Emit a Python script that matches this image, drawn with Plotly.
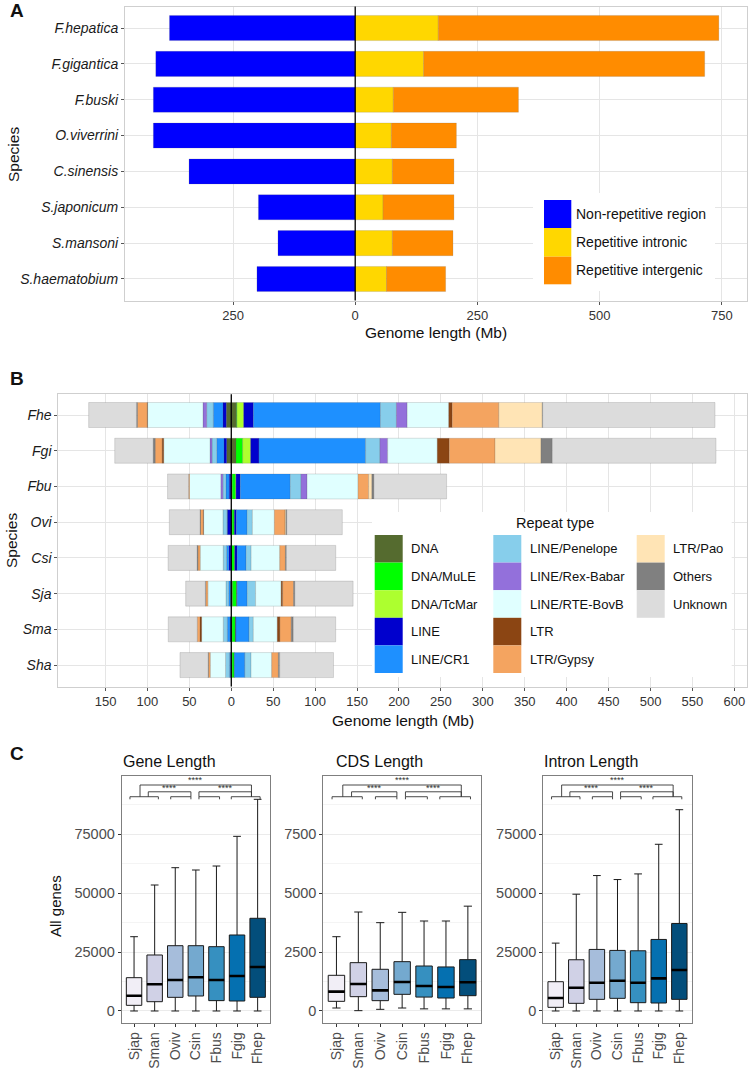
import plotly.graph_objects as go

W, H = 750, 1072
FONT = "Liberation Sans, Arial, Helvetica, sans-serif"


def px(x):
    return x / W


def py(y):
    return 1 - y / H


# ---------------- Panel A data (Mb) ----------------
species_a = ["F.hepatica", "F.gigantica", "F.buski", "O.viverrini",
             "C.sinensis", "S.japonicum", "S.mansoni", "S.haematobium"]
nonrep_mb = [380, 408, 413, 413, 340, 198, 158, 201]
intronic_mb = [170, 140, 78, 74, 76, 57, 76, 64]
intergenic_mb = [574, 575, 256, 133, 126, 145, 124, 121]
a_series = ["Non-repetitive region", "Repetitive intronic", "Repetitive intergenic"]
a_colors = ["#0000FF", "#FFD700", "#FF8C00"]
a_ticks = [-250, 0, 250, 500, 750]

# ---------------- Panel B data (Mb) ----------------
species_b = ["Fhe", "Fgi", "Fbu", "Ovi", "Csi", "Sja", "Sma", "Sha"]
repeat_types = ["DNA", "DNA/MuLE", "DNA/TcMar", "LINE", "LINE/CR1",
                "LINE/Penelope", "LINE/Rex-Babar", "LINE/RTE-BovB", "LTR",
                "LTR/Gypsy", "LTR/Pao", "Others", "Unknown"]
repeat_colors = ["#556B2F", "#00FF00", "#ADFF2F", "#0000CD", "#1E90FF",
                 "#87CEEB", "#9370DB", "#E0FFFF", "#8B4513",
                 "#F4A460", "#FFE4B5", "#808080", "#DCDCDC"]
# left (negative) side, values in repeat_types order
fhe_left = [6.0, 0, 0, 3.9, 11.6, 7.9, 4.4, 66.0, 0.5, 11.6, 0, 1.2, 57.0]
fgi_left = [5.5, 0, 0, 3.2, 8.7, 5.6, 2.4, 55.2, 1.9, 8.3, 0, 2.4, 45.8]
fbu_left = [0.5, 0, 0, 2.0, 3.9, 3.6, 2.6, 37.2, 0, 1.2, 0, 0, 25.0]
ovi_left = [0.3, 0, 0, 4.4, 0.5, 4.8, 0, 23.0, 0.5, 3.3, 0, 0.5, 36.6]
csi_left = [0.3, 0.2, 0, 2.5, 2.7, 4.0, 0, 27.4, 0, 2.7, 0, 1.0, 34.6]
sja_left = [0.5, 0, 0, 0.3, 2.4, 3.2, 0, 21.6, 0, 2.4, 0, 0.5, 23.5]
sma_left = [0.3, 0.3, 0, 1.0, 3.2, 4.8, 0, 25.8, 2.0, 3.2, 0, 0, 34.6]
sha_left = [0.3, 0, 0, 0.5, 1.5, 4.6, 0, 18.2, 0, 2.2, 0, 0.3, 33.6]
# right (positive) side
fhe_right = [6.4, 0.5, 7.9, 11.6, 151.5, 19.1, 12.8, 49.6, 4.1, 55.6, 51.8, 0.5, 205.5]
fgi_right = [5.6, 8.0, 9.5, 9.9, 127.2, 17.1, 9.2, 59.2, 14.3, 54.5, 54.9, 13.5, 195.2]
fbu_right = [1.2, 4.0, 0.5, 5.1, 59.6, 12.8, 7.2, 60.8, 0, 12.6, 3.9, 2.4, 86.7]
ovi_right = [1.0, 2.4, 0.3, 2.4, 12.8, 6.3, 0, 26.2, 0, 12.8, 1.0, 1.0, 66.2]
csi_right = [0.5, 3.4, 0.3, 2.8, 10.7, 6.0, 0, 34.1, 0, 6.8, 0, 1.2, 58.8]
sja_right = [1.5, 4.8, 0.3, 0.5, 11.9, 10.0, 0, 30.5, 1.8, 13.0, 0, 1.5, 69.5]
sma_right = [1.0, 3.8, 0.3, 0.5, 15.5, 5.2, 0, 28.6, 3.1, 13.6, 0, 2.4, 50.5]
sha_right = [1.0, 2.4, 0, 0.3, 12.5, 7.4, 0, 24.6, 0, 8.0, 0, 1.5, 64.2]
b_ticks = list(range(-150, 601, 50))

# ---------------- Panel C data (bp) ----------------
species_c = ["Sjap", "Sman", "Oviv", "Csin", "Fbus", "Fgig", "Fhep"]
box_colors = ["#F1EEF6", "#D0D1E6", "#A6BDDB", "#74A9CF", "#3690C0", "#0570B0", "#034E7B"]
gene_low = [0, 0, 0, 0, 0, 0, 0]
gene_q1 = [2400, 3950, 5800, 6370, 4400, 4240, 5800]
gene_med = [6500, 11320, 13160, 14300, 13160, 14850, 18680]
gene_q3 = [14140, 23770, 27720, 27720, 27300, 32260, 39350]
gene_high = [31540, 53480, 60830, 59850, 61540, 74140, 89850]
cds_low = [127, 14, 70, 127, 90, 90, 90]
cds_q1 = [410, 608, 438, 707, 590, 550, 650]
cds_med = [820, 1146, 877, 1231, 1060, 1020, 1220]
cds_q3 = [1515, 2051, 1770, 2094, 1910, 1870, 2180]
cds_high = [3154, 4202, 3749, 4188, 3820, 3820, 4450]
intron_low = [0, 0, 0, 0, 0, 0, 0]
intron_q1 = [1550, 3250, 4940, 5370, 3530, 3390, 4940]
intron_med = [5510, 9890, 12010, 12850, 12010, 13840, 17370]
intron_q3 = [12430, 21750, 26130, 25710, 25560, 30370, 37150]
intron_high = [28810, 49580, 57490, 55790, 58190, 70760, 85450]
c_titles = ["Gene Length", "CDS Length", "Intron Length"]
c_ticks_gene = [0, 25000, 50000, 75000]
c_ticks_cds = [0, 2500, 5000, 7500]

fig = go.Figure()

# ---------------- Panel A bars ----------------
for name, vals, col, sign in zip(a_series, [nonrep_mb, intronic_mb, intergenic_mb], a_colors, [-1, 1, 1]):
    fig.add_trace(go.Bar(
        y=species_a, x=[sign * v for v in vals], orientation="h", name=name,
        marker=dict(color=col, line=dict(color="rgba(90,90,90,0.35)", width=0.5)),
        width=0.7, xaxis="x", yaxis="y", showlegend=False))

# ---------------- Panel B bars ----------------
b_left = [fhe_left, fgi_left, fbu_left, ovi_left, csi_left, sja_left, sma_left, sha_left]
b_right = [fhe_right, fgi_right, fbu_right, ovi_right, csi_right, sja_right, sma_right, sha_right]
for k, (rt, col) in enumerate(zip(repeat_types, repeat_colors)):
    lv = [-row[k] if row[k] > 0 else None for row in b_left]
    rv = [row[k] if row[k] > 0 else None for row in b_right]
    for vals in (lv, rv):
        fig.add_trace(go.Bar(
            y=species_b, x=vals, orientation="h", name=rt,
            marker=dict(color=col, line=dict(color="rgba(70,70,70,0.35)", width=0.5)),
            width=0.7, xaxis="x2", yaxis="y2", showlegend=False))

# ---------------- Panel C boxes ----------------
c_sets = [
    ("x3", "y3", gene_low, gene_q1, gene_med, gene_q3, gene_high),
    ("x4", "y4", cds_low, cds_q1, cds_med, cds_q3, cds_high),
    ("x5", "y5", intron_low, intron_q1, intron_med, intron_q3, intron_high),
]
BOXW = 0.75
for xa, ya, lo, q1, med, q3, hi in c_sets:
    for i, sp in enumerate(species_c):
        fig.add_trace(go.Box(
            x=[i], q1=[q1[i]], median=[med[i]], q3=[q3[i]],
            lowerfence=[lo[i]], upperfence=[hi[i]], name=sp,
            width=BOXW, whiskerwidth=0.5, boxpoints=False,
            fillcolor=box_colors[i], line=dict(color="#1A1A1A", width=1),
            xaxis=xa, yaxis=ya, showlegend=False, hoverinfo="skip"))
    mx, my = [], []
    for i in range(len(species_c)):
        mx += [i - BOXW / 2, i + BOXW / 2, None]
        my += [med[i], med[i], None]
    fig.add_trace(go.Scatter(x=mx, y=my, mode="lines", line=dict(color="black", width=2.6),
                             xaxis=xa, yaxis=ya, showlegend=False, hoverinfo="skip"))

# ---------------- Axes ----------------
grid = "#E5E5E5"
border_ab = "#CFCFCF"
tickfont_ab = dict(family=FONT, size=13, color="#333333")

layout = dict(
    width=W, height=H, autosize=False,
    margin=dict(l=0, r=0, t=0, b=0),
    paper_bgcolor="white", plot_bgcolor="white",
    barmode="relative", boxmode="overlay", showlegend=False, hovermode=False,
    font=dict(family=FONT, color="#222222"),
)

layout["xaxis"] = dict(
    domain=[px(125), px(746.7)], anchor="y", range=[-471, 801],
    tickvals=a_ticks, ticktext=[str(abs(t)) for t in a_ticks],
    showgrid=True, gridcolor=grid, zeroline=False,
    showline=True, mirror=True, linecolor=border_ab, linewidth=1,
    ticks="outside", ticklen=3, tickcolor="#555555", tickfont=tickfont_ab,
    ticklabeloverflow="allow")
layout["yaxis"] = dict(
    domain=[py(300.5), py(6.5)], anchor="x", type="category",
    categoryorder="array", categoryarray=species_a, range=[7.6, -0.6],
    showgrid=True, gridcolor=grid, zeroline=False,
    showline=True, mirror=True, linecolor=border_ab, linewidth=1,
    ticks="outside", ticklen=3, tickcolor="#555555",
    tickfont=dict(family=FONT, size=14, color="#1A1A1A", style="italic"),
    ticklabeloverflow="allow")

layout["xaxis2"] = dict(
    domain=[px(58.3), px(746.7)], anchor="y2", range=[-206.3, 614.7],
    tickvals=b_ticks, ticktext=[str(abs(t)) for t in b_ticks],
    showgrid=True, gridcolor=grid, zeroline=False,
    showline=True, mirror=True, linecolor=border_ab, linewidth=1,
    ticks="outside", ticklen=3, tickcolor="#555555", tickfont=tickfont_ab,
    ticklabeloverflow="allow")
layout["yaxis2"] = dict(
    domain=[py(686.5), py(394.3)], anchor="x2", type="category",
    categoryorder="array", categoryarray=species_b, range=[7.6, -0.58],
    showgrid=True, gridcolor=grid, zeroline=False,
    showline=True, mirror=True, linecolor=border_ab, linewidth=1,
    ticks="outside", ticklen=3, tickcolor="#555555",
    tickfont=dict(family=FONT, size=14, color="#1A1A1A", style="italic"),
    ticklabeloverflow="allow")

c_domains = [(121.7, 270.0), (323.3, 481.0), (543.3, 691.7)]
c_ranges = [[-4970, 99750], [-497, 9975], [-4970, 99750]]
c_ticks = [c_ticks_gene, c_ticks_cds, c_ticks_gene]
for j in range(3):
    xn, yn = "xaxis%d" % (j + 3), "yaxis%d" % (j + 3)
    step = c_ticks[j][1] - c_ticks[j][0]
    minor_vals = [t + step / 2 for t in c_ticks[j]]
    layout[xn] = dict(
        domain=[px(c_domains[j][0]), px(c_domains[j][1])], anchor="y%d" % (j + 3),
        range=[-0.6, 6.6], tickvals=list(range(len(species_c))), ticktext=species_c,
        tickangle=-90, showgrid=False, zeroline=False,
        showline=True, mirror=True, linecolor="#7F7F7F", linewidth=1,
        ticks="outside", ticklen=3, tickcolor="#333333",
        tickfont=dict(family=FONT, size=14, color="#4D4D4D"),
        ticklabeloverflow="allow")
    layout[yn] = dict(
        domain=[py(1022.7), py(776)], anchor="x%d" % (j + 3),
        range=c_ranges[j], tickvals=c_ticks[j], ticktext=[str(t) for t in c_ticks[j]],
        showgrid=True, gridcolor="#EBEBEB", zeroline=False,
        minor=dict(tickvals=minor_vals, showgrid=True, gridcolor="#F4F4F4", ticks=""),
        showline=True, mirror=True, linecolor="#7F7F7F", linewidth=1,
        ticks="outside", ticklen=3, tickcolor="#333333",
        tickfont=dict(family=FONT, size=14.5, color="#4D4D4D"),
        ticklabeloverflow="allow")

fig.update_layout(**layout)

shapes = []
annotations = []

# zero reference lines
for xa, ya in (("x", "y"), ("x2", "y2")):
    shapes.append(dict(type="line", xref=xa, yref=ya + " domain", x0=0, x1=0, y0=0, y1=1,
                       line=dict(color="black", width=1.3), layer="above"))

# ---------------- Legend A (manual) ----------------
shapes.append(dict(type="rect", xref="paper", yref="paper", x0=px(533), x1=px(715),
                   y0=py(291), y1=py(193), fillcolor="white", line=dict(width=0), layer="above"))
a_rows = [(200, 228), (228, 256.7), (256.7, 284.3)]
for (t, b), name, col in zip(a_rows, a_series, a_colors):
    shapes.append(dict(type="rect", xref="paper", yref="paper", x0=px(544), x1=px(571.3),
                       y0=py(b), y1=py(t), fillcolor=col, line=dict(width=0), layer="above"))
    annotations.append(dict(text=name, xref="paper", yref="paper", x=px(573.5), y=py((t + b) / 2),
                            xanchor="left", yanchor="middle", showarrow=False,
                            font=dict(family=FONT, size=14, color="#111111")))

# ---------------- Legend B (manual) ----------------
shapes.append(dict(type="rect", xref="paper", yref="paper", x0=px(372), x1=px(731.7),
                   y0=py(677), y1=py(512), fillcolor="white", line=dict(width=0), layer="above"))
annotations.append(dict(text="Repeat type", xref="paper", yref="paper", x=px(554.5), y=py(523),
                        xanchor="center", yanchor="middle", showarrow=False,
                        font=dict(family=FONT, size=14.5, color="#111111")))
col_x = [374.7, 493.3, 636.7]
row_h = 27.6
for k, (rt, col) in enumerate(zip(repeat_types, repeat_colors)):
    c, r = k // 5, k % 5
    top = 535 + r * row_h
    shapes.append(dict(type="rect", xref="paper", yref="paper", x0=px(col_x[c]), x1=px(col_x[c] + 28),
                       y0=py(top + row_h), y1=py(top), fillcolor=col, line=dict(width=0), layer="above"))
    annotations.append(dict(text=rt, xref="paper", yref="paper", x=px(col_x[c] + 34.5),
                            y=py(top + row_h / 2), xanchor="left", yanchor="middle", showarrow=False,
                            font=dict(family=FONT, size=13, color="#111111")))

# ---------------- Significance brackets in C ----------------
L1, L2, L3, LT = 0.9635, 0.936, 0.916, 0.9056
bottom_groups = [(-0.2, 1.18), (1.78, 2.76), (3.15, 4.15), (4.72, 6.12)]
comparisons = [(0.29, 5.7, L1, 0.985), (0.69, 2.76, L2, 0.952), (3.15, 5.7, L2, 0.952)]
for j in range(3):
    xa, yd = "x%d" % (j + 3), "y%d domain" % (j + 3)
    ln = dict(color="#333333", width=0.9)
    for a, b in bottom_groups:
        shapes.append(dict(type="line", xref=xa, yref=yd, x0=a, x1=b, y0=L3, y1=L3, line=ln))
        shapes.append(dict(type="line", xref=xa, yref=yd, x0=a, x1=a, y0=L3, y1=LT, line=ln))
        shapes.append(dict(type="line", xref=xa, yref=yd, x0=b, x1=b, y0=L3, y1=LT, line=ln))
    for a, b, lev, sy in comparisons:
        shapes.append(dict(type="line", xref=xa, yref=yd, x0=a, x1=b, y0=lev, y1=lev, line=ln))
        shapes.append(dict(type="line", xref=xa, yref=yd, x0=a, x1=a, y0=L3, y1=lev, line=ln))
        shapes.append(dict(type="line", xref=xa, yref=yd, x0=b, x1=b, y0=L3, y1=lev, line=ln))
        annotations.append(dict(text="****", xref=xa, yref=yd, x=(a + b) / 2, y=sy,
                                xanchor="center", yanchor="middle", showarrow=False,
                                font=dict(family=FONT, size=9, color="#333333")))

# ---------------- Titles & labels ----------------
def ann(text, x, y, size, angle=0, xanchor="center", color="#111111"):
    annotations.append(dict(text=text, xref="paper", yref="paper", x=px(x), y=py(y),
                            xanchor=xanchor, yanchor="middle", showarrow=False, textangle=angle,
                            font=dict(family=FONT, size=size, color=color)))

ann("<b>A</b>", 16.5, 11, 19)
ann("<b>B</b>", 16.5, 378.5, 19)
ann("<b>C</b>", 16.5, 753.5, 19)
ann("Species", 13, 155, 15.5, angle=-90)
ann("Genome length (Mb)", 436, 333, 15.5)
ann("Species", 11, 541, 15.5, angle=-90)
ann("Genome length (Mb)", 403, 720, 15.5)
ann("All genes", 55, 906, 15, angle=-90)
for title, x0 in zip(c_titles, [120.7, 333.5, 541.7]):
    ann(title, x0, 761, 16, xanchor="left")

fig.update_layout(shapes=shapes, annotations=annotations)
fig.write_html(
    "out.html",
    config={"displayModeBar": False, "staticPlot": True},
    post_script="document.body.style.margin='0';document.body.style.overflow='hidden';")
